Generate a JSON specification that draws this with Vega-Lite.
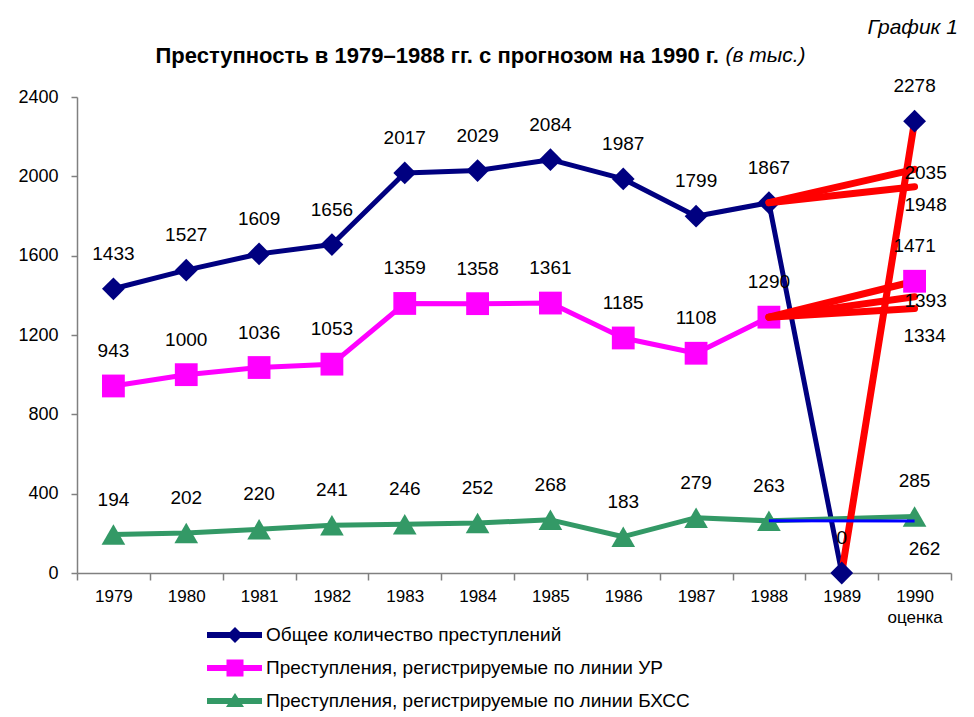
{
  "$schema": "https://vega.github.io/schema/vega-lite/v6.json",
  "autosize": "none",
  "width": 874,
  "height": 476,
  "padding": {"left": 77, "top": 97, "right": 23, "bottom": 144},
  "background": "white",
  "config": {
    "view": {"stroke": null},
    "axis": {"grid": false}
  },
  "title": {
    "text": "График 1",
    "anchor": "end",
    "frame": "group",
    "font": "Liberation Sans",
    "fontSize": 21,
    "fontStyle": "italic",
    "fontWeight": "normal",
    "color": "#000000",
    "dx": 7,
    "offset": 6
  },
  "datasets": {
    "main": [
      {"year": "1979", "series": "Общее количество преступлений", "value": 1433},
      {"year": "1980", "series": "Общее количество преступлений", "value": 1527},
      {"year": "1981", "series": "Общее количество преступлений", "value": 1609},
      {"year": "1982", "series": "Общее количество преступлений", "value": 1656},
      {"year": "1983", "series": "Общее количество преступлений", "value": 2017},
      {"year": "1984", "series": "Общее количество преступлений", "value": 2029},
      {"year": "1985", "series": "Общее количество преступлений", "value": 2084},
      {"year": "1986", "series": "Общее количество преступлений", "value": 1987},
      {"year": "1987", "series": "Общее количество преступлений", "value": 1799},
      {"year": "1988", "series": "Общее количество преступлений", "value": 1867},
      {"year": "1989", "series": "Общее количество преступлений", "value": 0},
      {"year": "1990", "series": "Общее количество преступлений", "value": 2278},
      {"year": "1979", "series": "Преступления, регистрируемые по линии УР", "value": 943},
      {"year": "1980", "series": "Преступления, регистрируемые по линии УР", "value": 1000},
      {"year": "1981", "series": "Преступления, регистрируемые по линии УР", "value": 1036},
      {"year": "1982", "series": "Преступления, регистрируемые по линии УР", "value": 1053},
      {"year": "1983", "series": "Преступления, регистрируемые по линии УР", "value": 1359},
      {"year": "1984", "series": "Преступления, регистрируемые по линии УР", "value": 1358},
      {"year": "1985", "series": "Преступления, регистрируемые по линии УР", "value": 1361},
      {"year": "1986", "series": "Преступления, регистрируемые по линии УР", "value": 1185},
      {"year": "1987", "series": "Преступления, регистрируемые по линии УР", "value": 1108},
      {"year": "1988", "series": "Преступления, регистрируемые по линии УР", "value": 1290},
      {"year": "1990", "series": "Преступления, регистрируемые по линии УР", "value": 1471},
      {"year": "1979", "series": "Преступления, регистрируемые по линии БХСС", "value": 194},
      {"year": "1980", "series": "Преступления, регистрируемые по линии БХСС", "value": 202},
      {"year": "1981", "series": "Преступления, регистрируемые по линии БХСС", "value": 220},
      {"year": "1982", "series": "Преступления, регистрируемые по линии БХСС", "value": 241},
      {"year": "1983", "series": "Преступления, регистрируемые по линии БХСС", "value": 246},
      {"year": "1984", "series": "Преступления, регистрируемые по линии БХСС", "value": 252},
      {"year": "1985", "series": "Преступления, регистрируемые по линии БХСС", "value": 268},
      {"year": "1986", "series": "Преступления, регистрируемые по линии БХСС", "value": 183},
      {"year": "1987", "series": "Преступления, регистрируемые по линии БХСС", "value": 279},
      {"year": "1988", "series": "Преступления, регистрируемые по линии БХСС", "value": 263},
      {"year": "1990", "series": "Преступления, регистрируемые по линии БХСС", "value": 285}
    ],
    "forecast": [
      {"seg": "a", "year": "1988", "value": 1867},
      {"seg": "a", "year": "1990", "value": 2035},
      {"seg": "b", "year": "1988", "value": 1867},
      {"seg": "b", "year": "1990", "value": 1948},
      {"seg": "c", "year": "1988", "value": 1290},
      {"seg": "c", "year": "1990", "value": 1471},
      {"seg": "d", "year": "1988", "value": 1290},
      {"seg": "d", "year": "1990", "value": 1393},
      {"seg": "e", "year": "1988", "value": 1290},
      {"seg": "e", "year": "1990", "value": 1334},
      {"seg": "f", "year": "1989", "value": 0},
      {"seg": "f", "year": "1990", "value": 2278}
    ],
    "trend": [
      {"year": "1988", "value": 263},
      {"year": "1990", "value": 262}
    ],
    "flabels": [
      {"year": "1990", "value": 2035},
      {"year": "1990", "value": 1948},
      {"year": "1990", "value": 1393},
      {"year": "1990", "value": 1334},
      {"year": "1990", "value": 262}
    ]
  },
  "encoding": {
    "x": {
      "field": "year",
      "type": "nominal",
      "sort": null,
      "scale": {
        "type": "band",
        "domain": ["1979","1980","1981","1982","1983","1984","1985","1986","1987","1988","1989","1990"],
        "paddingInner": 0,
        "paddingOuter": 0
      },
      "axis": {
        "labelAngle": 0,
        "tickBand": "extent",
        "domainColor": "#808080",
        "domainWidth": 1.5,
        "tickColor": "#808080",
        "tickWidth": 1.5,
        "tickSize": 7,
        "labelPadding": 8,
        "labelFont": "Liberation Sans",
        "labelFontSize": 17,
        "labelColor": "#000000",
        "labelLineHeight": 21,
        "labelExpr": "datum.value == '1990' ? ['1990', 'оценка'] : datum.label",
        "title": "Преступность в 1979–1988 гг. с прогнозом на 1990 г.",
        "titleAngle": 0,
        "titleAlign": "left",
        "titleBaseline": "middle",
        "titleX": 78,
        "titleY": -518,
        "titleFont": "Liberation Sans",
        "titleFontSize": 22,
        "titleFontWeight": "bold",
        "titleFontStyle": "normal",
        "titleColor": "#000000"
      }
    },
    "y": {
      "field": "value",
      "type": "quantitative",
      "scale": {"domain": [0, 2400], "nice": false, "zero": true},
      "axis": {
        "values": [0, 400, 800, 1200, 1600, 2000, 2400],
        "format": "d",
        "domainColor": "#808080",
        "domainWidth": 1.5,
        "tickColor": "#808080",
        "tickWidth": 1.5,
        "tickSize": 6,
        "labelPadding": 13,
        "labelFont": "Liberation Sans",
        "labelFontSize": 18,
        "labelColor": "#000000",
        "title": "(в тыс.)",
        "titleAngle": 0,
        "titleAlign": "left",
        "titleBaseline": "middle",
        "titleX": 648,
        "titleY": -42,
        "titleFont": "Liberation Sans",
        "titleFontSize": 21,
        "titleFontStyle": "italic",
        "titleFontWeight": "normal",
        "titleColor": "#000000"
      }
    }
  },
  "layer": [
    {
      "data": {"name": "main"},
      "mark": {"type": "line", "strokeWidth": 5, "strokeJoin": "round"},
      "encoding": {
        "color": {
          "field": "series",
          "type": "nominal",
          "scale": {
            "domain": ["Общее количество преступлений", "Преступления, регистрируемые по линии УР", "Преступления, регистрируемые по линии БХСС"],
            "range": ["#000080", "#FF00FF", "#339966"]
          },
          "legend": {
            "title": null,
            "orient": "none",
            "legendX": 148,
            "legendY": 528,
            "symbolSize": 400,
            "symbolStrokeWidth": 0,
            "symbolOpacity": 1,
            "labelOffset": 21,
            "rowPadding": 13,
            "labelFont": "Liberation Sans",
            "labelFontSize": 19,
            "labelColor": "#000000",
            "labelLimit": 600,
            "encode": {
              "symbols": {
                "update": {
                  "fill": {"scale": "color", "field": "value"},
                  "strokeWidth": {"value": 0},
                  "shape": {"signal": "datum.value === 'Общее количество преступлений' ? 'M-2.8,-0.3H2.7V0.3H-2.8Z M0,-0.8L0.8,0L0,0.8L-0.8,0Z' : datum.value === 'Преступления, регистрируемые по линии УР' ? 'M-2.8,-0.3H2.7V0.3H-2.8Z M-0.85,-0.85H0.85V0.85H-0.85Z' : 'M-2.8,-0.3H2.7V0.3H-2.8Z M0,-0.8L0.9,0.6H-0.9Z'"}
                }
              }
            }
          }
        }
      }
    },
    {
      "data": {"name": "main"},
      "transform": [{"filter": "datum.year <= '1988' && datum.series === 'Общее количество преступлений'"}],
      "mark": {"type": "point", "shape": "diamond", "filled": true, "color": "#000080", "opacity": 1, "size": 520, "strokeWidth": 0},
      "encoding": {}
    },
    {
      "data": {"name": "main"},
      "transform": [{"filter": "datum.year <= '1988' && datum.series === 'Преступления, регистрируемые по линии УР'"}],
      "mark": {"type": "point", "shape": "square", "filled": true, "color": "#FF00FF", "opacity": 1, "size": 520, "strokeWidth": 0},
      "encoding": {}
    },
    {
      "data": {"name": "main"},
      "transform": [{"filter": "datum.year <= '1988' && datum.series === 'Преступления, регистрируемые по линии БХСС'"}],
      "mark": {"type": "point", "shape": "triangle-up", "filled": true, "color": "#339966", "opacity": 1, "size": 560, "strokeWidth": 0},
      "encoding": {}
    },
    {
      "data": {"name": "forecast"},
      "mark": {"type": "line", "color": "#FF0000", "strokeWidth": 7, "strokeCap": "round"},
      "encoding": {"detail": {"field": "seg", "type": "nominal"}}
    },
    {
      "data": {"name": "main"},
      "transform": [{"filter": "datum.year > '1988' && datum.series === 'Общее количество преступлений'"}],
      "mark": {"type": "point", "shape": "diamond", "filled": true, "color": "#000080", "opacity": 1, "size": 520, "strokeWidth": 0},
      "encoding": {}
    },
    {
      "data": {"name": "main"},
      "transform": [{"filter": "datum.year > '1988' && datum.series === 'Преступления, регистрируемые по линии УР'"}],
      "mark": {"type": "point", "shape": "square", "filled": true, "color": "#FF00FF", "opacity": 1, "size": 520, "strokeWidth": 0},
      "encoding": {}
    },
    {
      "data": {"name": "main"},
      "transform": [{"filter": "datum.year > '1988' && datum.series === 'Преступления, регистрируемые по линии БХСС'"}],
      "mark": {"type": "point", "shape": "triangle-up", "filled": true, "color": "#339966", "opacity": 1, "size": 560, "strokeWidth": 0},
      "encoding": {}
    },
    {
      "data": {"name": "trend"},
      "mark": {"type": "line", "color": "#0000FF", "strokeWidth": 3},
      "encoding": {}
    },
    {
      "data": {"name": "main"},
      "mark": {"type": "text", "dy": -35, "font": "Liberation Sans", "fontSize": 19, "color": "#000000", "baseline": "middle"},
      "encoding": {"text": {"field": "value", "type": "quantitative"}}
    },
    {
      "data": {"name": "flabels"},
      "transform": [{"filter": "datum.value == 2035 || datum.value == 1393"}],
      "mark": {"type": "text", "dy": 4, "dx": 11, "font": "Liberation Sans", "fontSize": 19, "color": "#000000", "baseline": "middle"},
      "encoding": {"text": {"field": "value", "type": "quantitative"}}
    },
    {
      "data": {"name": "flabels"},
      "transform": [{"filter": "datum.value == 1948"}],
      "mark": {"type": "text", "dy": 18, "dx": 11, "font": "Liberation Sans", "fontSize": 19, "color": "#000000", "baseline": "middle"},
      "encoding": {"text": {"field": "value", "type": "quantitative"}}
    },
    {
      "data": {"name": "flabels"},
      "transform": [{"filter": "datum.value == 1334 || datum.value == 262"}],
      "mark": {"type": "text", "dy": 28, "dx": 10, "font": "Liberation Sans", "fontSize": 19, "color": "#000000", "baseline": "middle"},
      "encoding": {"text": {"field": "value", "type": "quantitative"}}
    }
  ]
}
